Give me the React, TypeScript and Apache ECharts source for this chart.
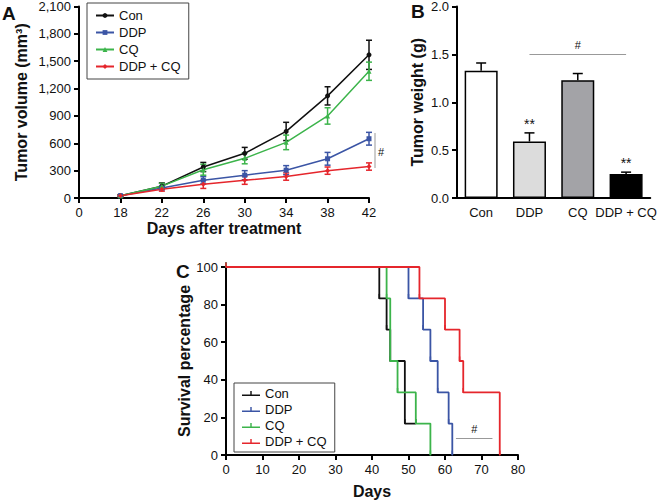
import React, { useEffect, useRef } from "react";
import * as echarts from "echarts";

// ---------- Panel A: tumor volume ----------
const daysA = ["0", "18", "22", "26", "30", "34", "38", "42"];
const groups = ["Con", "DDP", "CQ", "DDP + CQ"];
const colors = ["#111111", "#3b55a5", "#3cb44b", "#e5262c"];
const volCon = [null, 25, 130, 340, 490, 730, 1120, 1570];
const volDDP = [null, 25, 110, 195, 250, 305, 430, 650];
const volCQ = [null, 25, 130, 310, 435, 610, 900, 1390];
const volDC = [null, 25, 95, 150, 195, 235, 300, 345];
const errCon = [0, 10, 35, 50, 65, 100, 100, 160];
const errDDP = [0, 10, 20, 40, 50, 50, 70, 70];
const errCQ = [0, 10, 30, 60, 60, 80, 90, 100];
const errDC = [0, 10, 20, 45, 45, 40, 40, 40];
const volTicks = { min: 0, max: 2100, interval: 300 };

// ---------- Panel B: tumor weight ----------
const weightCats = ["Con", "DDP", "CQ", "DDP + CQ"];
const weightVals = [1.33, 0.59, 1.23, 0.25];
const weightErr = [0.08, 0.09, 0.07, 0.02];
const weightFill = ["#ffffff", "#dcdcdc", "#a3a3a7", "#000000"];
const weightStars = ["", "**", "", "**"];

// ---------- Panel C: survival ----------
const survCon = [[0, 100], [42, 83.3], [44, 66.7], [45, 50], [49, 16.7], [52, 16.7]];
const survDDP = [[0, 100], [50, 83.3], [54, 66.7], [56, 50], [58, 33.3], [61, 16.7], [62, 0]];
const survCQ = [[0, 100], [44, 83.3], [45, 50], [47, 33.3], [52, 16.7], [56, 0]];
const survDC = [[0, 100], [53, 83.3], [60, 66.7], [64, 50], [65, 33.3], [75, 0]];

const FONT = "Liberation Sans, Arial, Helvetica, sans-serif";
const KM_ICON = "path://M0,6L20,6L20,7.6L0,7.6Z M9.2,2L10.8,2L10.8,7L9.2,7Z";

function errRenderer(color: string, halfCap: number, upOnly: boolean, lw: number) {
  return (params: any, api: any) => {
    const x = api.value(0);
    const y = api.value(1);
    const e = api.value(2);
    const top = api.coord([x, y + e]);
    const bot = api.coord([x, upOnly ? y : y - e]);
    const style = { stroke: color, lineWidth: lw };
    const children: any[] = [
      { type: "line", shape: { x1: top[0], y1: top[1], x2: bot[0], y2: bot[1] }, style },
      { type: "line", shape: { x1: top[0] - halfCap, y1: top[1], x2: top[0] + halfCap, y2: top[1] }, style },
    ];
    if (!upOnly) {
      children.push({ type: "line", shape: { x1: bot[0] - halfCap, y1: bot[1], x2: bot[0] + halfCap, y2: bot[1] }, style });
    }
    return { type: "group", children };
  };
}

export default function App() {
  const ref = useRef<HTMLDivElement>(null);
  useEffect(() => {
    document.body.style.margin = "0";
    const chart = echarts.init(ref.current!, null, { renderer: "svg" });
    const axisLine = { lineStyle: { color: "#000", width: 2 } };
    const axisTick = { length: 5, lineStyle: { color: "#000", width: 2 } };
    const axisLabel = { color: "#111", fontSize: 13, fontFamily: FONT };
    const nameStyle = { color: "#111", fontSize: 16, fontWeight: "bold" as const, fontFamily: FONT };

    const volSeries = [volCon, volDDP, volCQ, volDC];
    const errSeries = [errCon, errDDP, errCQ, errDC];
    const survSeries = [survCon, survDDP, survCQ, survDC];

    const series: any[] = [];
    // A: error bars + lines
    volSeries.forEach((vals, g) => {
      series.push({
        type: "custom",
        xAxisIndex: 0,
        yAxisIndex: 0,
        renderItem: errRenderer(colors[g], 3, false, 1.5),
        data: vals
          .map((v, i) => (v == null ? null : [i, v, errSeries[g][i]]))
          .filter((d) => d != null),
        z: 3,
        silent: true,
      });
      series.push({
        type: "line",
        name: groups[g],
        xAxisIndex: 0,
        yAxisIndex: 0,
        data: vals.map((v) => (v == null ? "-" : v)),
        symbol: ["circle", "rect", "triangle", "diamond"][g],
        symbolSize: 5,
        lineStyle: { color: colors[g], width: 1.5 },
        itemStyle: { color: colors[g] },
        z: 4,
      });
    });

    // B: bars + error
    series.push({
      type: "bar",
      xAxisIndex: 1,
      yAxisIndex: 1,
      barWidth: 33,
      data: weightVals.map((v, i) => ({
        value: v,
        itemStyle: { color: weightFill[i], borderColor: "#000", borderWidth: 1.5 },
        label: {
          show: weightStars[i] !== "",
          formatter: weightStars[i],
          position: "top",
          distance: i === 1 ? 11 : 4,
          fontSize: 14,
          color: "#111",
          fontFamily: FONT,
        },
      })),
      markLine: {
        silent: true,
        symbol: "none",
        lineStyle: { color: "#999", width: 1, type: "solid" },
        label: { show: true, position: "middle", formatter: "#", color: "#111", fontSize: 11, fontFamily: FONT, distance: 4 },
        data: [[{ coord: ["DDP", 1.5] }, { coord: ["DDP + CQ", 1.5] }]],
      },
    });
    series.push({
      type: "custom",
      xAxisIndex: 1,
      yAxisIndex: 1,
      renderItem: errRenderer("#000", 5, true, 1.5),
      data: weightVals.map((v, i) => [i, v, weightErr[i]]),
      z: 1,
      silent: true,
    });

    // C: survival step lines
    survSeries.forEach((d, g) => {
      const s: any = {
        type: "line",
        name: "S:" + groups[g],
        xAxisIndex: 2,
        yAxisIndex: 2,
        step: "end",
        data: d,
        symbol: "rect",
        symbolSize: [1.5, 5],
        symbolOffset: [0, -2],
        lineStyle: { color: colors[g], width: 1.8 },
        itemStyle: { color: colors[g] },
        z: 2 + g,
      };
      if (g === 3) {
        s.markLine = {
          silent: true,
          symbol: "none",
          lineStyle: { color: "#999", width: 1, type: "solid" },
          label: { show: true, position: "middle", formatter: "#", color: "#111", fontSize: 11, fontFamily: FONT, distance: 4 },
          data: [[{ coord: [63, 9] }, { coord: [73, 9] }]],
        };
      }
      series.push(s);
    });

    const legendBase = {
      orient: "vertical" as const,
      borderColor: "#444",
      borderWidth: 1,
      borderRadius: 0,
      itemWidth: 18,
      itemHeight: 10,
      itemGap: 3,
      textStyle: { fontSize: 13, color: "#111", fontFamily: FONT },
    };

    chart.setOption({
      animation: false,
      textStyle: { fontFamily: FONT },
      grid: [
        { left: 79, top: 6, width: 290, height: 192 },
        { left: 457, top: 6, width: 201, height: 192 },
        { left: 226, top: 267, width: 292, height: 194 },
      ],
      legend: [
        {
          ...legendBase,
          left: 87,
          top: 3,
          itemHeight: 6,
          itemGap: 4,
          padding: [6, 8, 6, 8],
          data: groups,
        },
        {
          ...legendBase,
          left: 234,
          top: 383,
          padding: [4, 8, 4, 8],
          data: groups.map((g) => ({ name: "S:" + g, icon: KM_ICON })),
          formatter: (n: string) => n.replace("S:", ""),
        },
      ],
      xAxis: [
        {
          type: "category",
          gridIndex: 0,
          data: daysA,
          boundaryGap: false,
          axisLine,
          axisTick,
          axisLabel,
          name: "Days after treatment",
          nameLocation: "middle",
          nameGap: 22,
          nameTextStyle: nameStyle,
        },
        {
          type: "category",
          gridIndex: 1,
          data: weightCats,
          axisLine,
          axisTick: { ...axisTick, alignWithLabel: true, length: 4 },
          axisLabel: { ...axisLabel, interval: 0, hideOverlap: false },
        },
        {
          type: "value",
          gridIndex: 2,
          min: 0,
          max: 80,
          interval: 10,
          splitLine: { show: false },
          axisLine,
          axisTick,
          axisLabel,
          name: "Days",
          nameLocation: "middle",
          nameGap: 28,
          nameTextStyle: nameStyle,
        },
      ],
      yAxis: [
        {
          type: "value",
          gridIndex: 0,
          ...volTicks,
          splitLine: { show: false },
          axisLine: { ...axisLine, show: true },
          axisTick: { ...axisTick, show: true },
          axisLabel: { ...axisLabel, formatter: (v: number) => v.toLocaleString("en-US") },
          name: "Tumor volume (mm³)",
          nameLocation: "middle",
          nameGap: 50,
          nameTextStyle: nameStyle,
        },
        {
          type: "value",
          gridIndex: 1,
          min: 0,
          max: 2,
          interval: 0.5,
          splitLine: { show: false },
          axisLine: { ...axisLine, show: true },
          axisTick: { ...axisTick, show: true },
          axisLabel: { ...axisLabel, formatter: (v: number) => v.toFixed(1) },
          name: "Tumor weight (g)",
          nameLocation: "middle",
          nameGap: 32,
          nameTextStyle: nameStyle,
        },
        {
          type: "value",
          gridIndex: 2,
          min: 0,
          max: 100,
          interval: 20,
          splitLine: { show: false },
          axisLine: { ...axisLine, show: true },
          axisTick: { ...axisTick, show: true },
          axisLabel,
          name: "Survival percentage",
          nameLocation: "middle",
          nameGap: 34,
          nameTextStyle: nameStyle,
        },
      ],
      graphic: [
        { type: "text", left: 2, top: 4, style: { text: "A", font: `bold 19px ${FONT}`, fill: "#111" } },
        { type: "text", left: 411, top: 2, style: { text: "B", font: `bold 19px ${FONT}`, fill: "#111" } },
        { type: "text", left: 176, top: 262, style: { text: "C", font: `bold 19px ${FONT}`, fill: "#111" } },
        { type: "line", shape: { x1: 375, y1: 133, x2: 375, y2: 168 }, style: { stroke: "#999", lineWidth: 1 } },
        { type: "text", left: 378, top: 146, style: { text: "#", font: `11px ${FONT}`, fill: "#111" } },
      ],
      series,
    });
    return () => chart.dispose();
  }, []);
  return <div ref={ref} style={{ width: 659, height: 500 }} />;
}
